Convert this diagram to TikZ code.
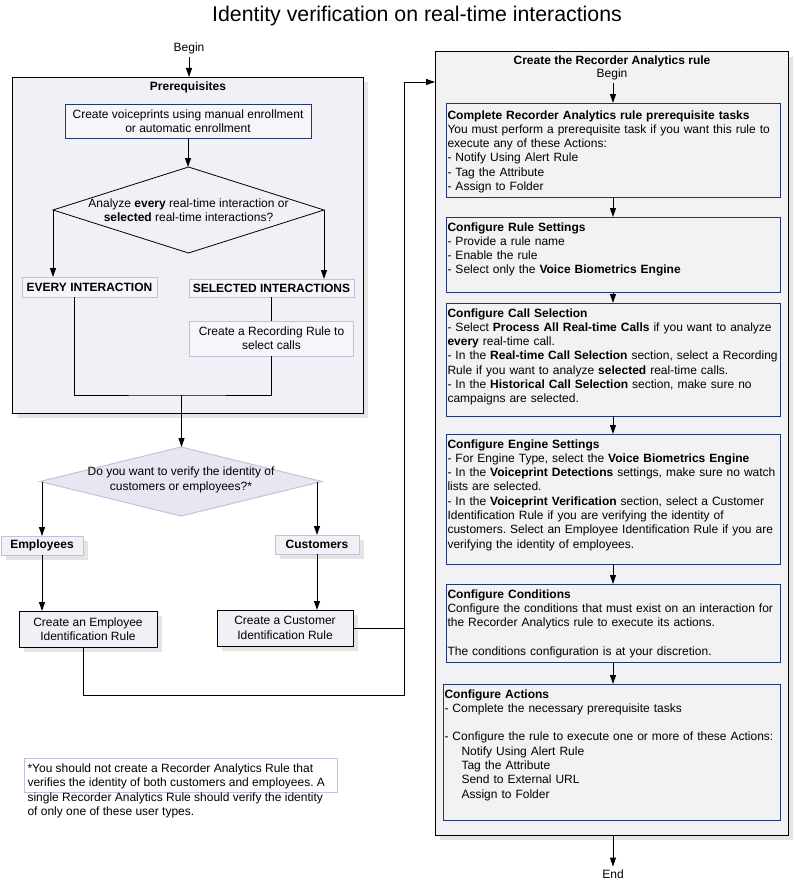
\documentclass[tikz,border=0pt]{standalone}
\usepackage{fontspec}
\setmainfont{Liberation Sans}
\frenchspacing
\usepackage{tikz}
\usetikzlibrary{positioning,shapes.geometric,shadows,arrows.meta}
\definecolor{navy}{HTML}{1F3A68}
\definecolor{lavline}{HTML}{C6C0DC}
\definecolor{lavfill}{HTML}{F1F0F6}
\definecolor{lavlight}{HTML}{F6F5FA}
\definecolor{diafill}{HTML}{E9E6F1}
\definecolor{shadowgray}{HTML}{E4E4E4}
\definecolor{rulefill}{HTML}{F2F2F5}

\begin{document}
\begin{tikzpicture}[x=1pt, y=-1pt,
			font=\fontsize{12}{14.3}\selectfont\frenchspacing,
			>={Triangle[length=9pt,width=6pt]},
			line width=1pt,
			shadowed/.style={drop shadow={shadow xshift=5pt, shadow yshift=-5pt, fill=shadowgray, opacity=1}},
			groupbox/.style={rectangle, draw=black, fill=lavfill, shadowed, inner sep=0pt, outer sep=0pt},
			bluebox/.style={rectangle, draw=navy, align=center, inner sep=0pt, outer sep=0pt},
			lavbox/.style={rectangle, draw=lavline, fill=lavlight, align=center, inner sep=0pt, outer sep=0pt},
			rulebox/.style={rectangle, draw=black, fill=lavfill, shadowed, align=center, inner sep=0pt, outer sep=0pt},
			taskbox/.style={rectangle, draw=navy, anchor=north west, align=left, inner xsep=1.5pt, inner ysep=3pt, outer sep=0pt, text height=11pt, font=\fontsize{12}{14.3}\selectfont\frenchspacing},
			plain/.style={inner sep=2.5pt, align=center},
		]
		\path[use as bounding box, fill=white] (0,0) rectangle (794,883);
		
			%Title
			\node[plain, font=\fontsize{21.3}{25}\selectfont]	(title)	at (417,16)	{Identity verification on real-time interactions};
		
			%Prerequisites
			\node[plain]	(begin1)	at (189,48)	{Begin};
			\node[groupbox, minimum width=351pt, minimum height=336pt]	(pre)	at (187.5,245)	{};
			\node[plain]	(pretitle)	at (188,87)	{\textbf{Prerequisites}};
			\node[bluebox, fill=lavlight, minimum width=246pt, minimum height=34pt]	(voice)	at (188,121)	{Create voiceprints using manual enrollment\\or automatic enrollment};
			\node[diamond, draw=black, line width=0.8pt, minimum width=271pt, minimum height=86pt, inner sep=0pt, outer sep=0pt]	(q1)	at (188.5,210)	{};
			\node[plain]	(q1text)	at (188.5,210)	{Analyze \textbf{every} real-time interaction or\\\textbf{selected} real-time interactions?};
			\node[lavbox, minimum width=135pt, minimum height=20pt]	(every)	at (89.5,287)	{\textbf{EVERY INTERACTION}};
			\node[lavbox, minimum width=165pt, minimum height=18pt]	(sel)	at (271.5,288)	{\textbf{SELECTED INTERACTIONS}};
			\node[lavbox, minimum width=164pt, minimum height=35pt]	(rec)	at (271.5,338.5)	{Create a Recording Rule to\\select calls};
			\coordinate	(join)	at (181.5,395);
		
			%Customers or employees
			\node[diamond, draw=lavline, fill=diafill, minimum width=282pt, minimum height=69pt, inner sep=0pt, outer sep=0pt]	(q2)	at (181,481.5)	{};
			\node[plain]	(q2text)	at (181,480)	{Do you want to verify the identity of\\customers or employees?*};
			\node[lavbox, fill=lavfill, shadowed, minimum width=82pt, minimum height=19pt]	(emp)	at (42,545.5)	{\textbf{Employees}};
			\node[lavbox, fill=lavfill, shadowed, minimum width=84pt, minimum height=19pt]	(cus)	at (317,544.5)	{\textbf{Customers}};
			\node[rulebox, minimum width=138pt, minimum height=36pt]	(empid)	at (88,629)	{Create an Employee\\Identification Rule};
			\node[rulebox, minimum width=136pt, minimum height=36pt]	(cusid)	at (285,628)	{Create a Customer\\Identification Rule};
			\coordinate	(bus)	at (404,695);
		
			%Recorder Analytics rule
			\node[groupbox, fill=rulefill, minimum width=353pt, minimum height=783pt]	(rule)	at (611.5,443.5)	{};
			\node[plain]	(ruletitle)	at (612,61)	{\textbf{Create the Recorder Analytics rule}};
			\node[plain]	(begin2)	at (612,74)	{Begin};
			\node[taskbox, text width=331pt, text height=13pt, text depth=75pt]	(t1)	at (446,103)	{\textbf{Complete Recorder Analytics rule prerequisite tasks}\\You must perform a prerequisite task if you want this rule to\\execute any of these Actions:\\- Notify Using Alert Rule\\- Tag the Attribute\\- Assign to Folder};
			\node[taskbox, text width=331pt, text depth=58pt]	(t2)	at (446,217)	{\textbf{Configure Rule Settings}\\- Provide a rule name\\- Enable the rule\\- Select only the \textbf{Voice Biometrics Engine}};
			\node[taskbox, text width=331pt, text depth=96pt]	(t3)	at (446,303)	{\textbf{Configure Call Selection}\\- Select \textbf{Process All Real-time Calls} if you want to analyze\\\textbf{every} real-time call.\\- In the \textbf{Real-time Call Selection} section, select a Recording\\Rule if you want to analyze \textbf{selected} real-time calls.\\- In the \textbf{Historical Call Selection} section, make sure no\\campaigns are selected.};
			\node[taskbox, text width=331pt, text depth=113pt]	(t4)	at (446,434)	{\textbf{Configure Engine Settings}\\- For Engine Type, select the \textbf{Voice Biometrics Engine}\\- In the \textbf{Voiceprint Detections} settings, make sure no watch\\lists are selected.\\- In the \textbf{Voiceprint Verification} section, select a Customer\\Identification Rule if you are verifying the identity of\\customers. Select an Employee Identification Rule if you are\\verifying the identity of employees.};
			\node[taskbox, text width=331pt, text depth=61pt]	(t5)	at (446,584)	{\textbf{Configure Conditions}\\Configure the conditions that must exist on an interaction for\\the Recorder Analytics rule to execute its actions.\\[14.3pt]The conditions configuration is at your discretion.};
			\node[taskbox, text width=334pt, text depth=119pt]	(t6)	at (443,684)	{\textbf{Configure Actions}\\- Complete the necessary prerequisite tasks\\[14.3pt]- Configure the rule to execute one or more of these Actions:\\\hspace*{17pt}Notify Using Alert Rule\\\hspace*{17pt}Tag the Attribute\\\hspace*{17pt}Send to External URL\\\hspace*{17pt}Assign to Folder};
			\node[plain]	(endn)	at (613,874)	{End};
		
			%Footnote
			\node[rectangle, draw=lavline, minimum width=313pt, minimum height=34pt, inner sep=0pt]	(fnbox)	at (180.5,775)	{};
			\node[anchor=north west, align=left, inner sep=0pt, font=\fontsize{12}{14.5}\selectfont\frenchspacing]	(fntext)	at (27,763)	{*You should not create a Recorder Analytics Rule that\\verifies the identity of both customers and employees. A\\single Recorder Analytics Rule should verify the identity\\of only one of these user types.};
		
			%Lines
			\draw[->]	(begin1.south) -- (begin1.south |- pre.north);
			\draw[->]	(voice.south) -- (voice.south |- q1.north);
			\draw[->]	(q1.west) -- (q1.west |- every.north);
			\draw[->]	(q1.east) -- (q1.east |- sel.north);
			\draw	(sel) -- (rec);
			\draw	([xshift=-15pt]every.south) |- (join) -| (rec.south);
			\draw[->]	(join) -- (join |- q2.north);
			\draw[->]	(emp.north |- q2.west) -- (emp.north);
			\draw[->]	(cus.north |- q2.east) -- (cus.north);
			\draw[->]	(emp.south) -- (emp.south |- empid.north);
			\draw[->]	(cus.south) -- (cus.south |- cusid.north);
			\draw	(cusid.east) -- (cusid.east -| bus);
			\draw[->]	([xshift=-5pt]empid.south) |- (bus) |- ([yshift=-30pt]rule.north west);
			\draw[->]	(begin2.south -| t1.north) -- (t1.north);
			\foreach \a/\b in {t1/t2, t2/t3, t3/t4, t4/t5, t5/t6}
				\draw[->]	(\a.south) -- (\a.south |- \b.north);
			\draw[->]	(endn.north |- rule.south) -- (endn.north);
		
		\end{tikzpicture}
\end{document}
